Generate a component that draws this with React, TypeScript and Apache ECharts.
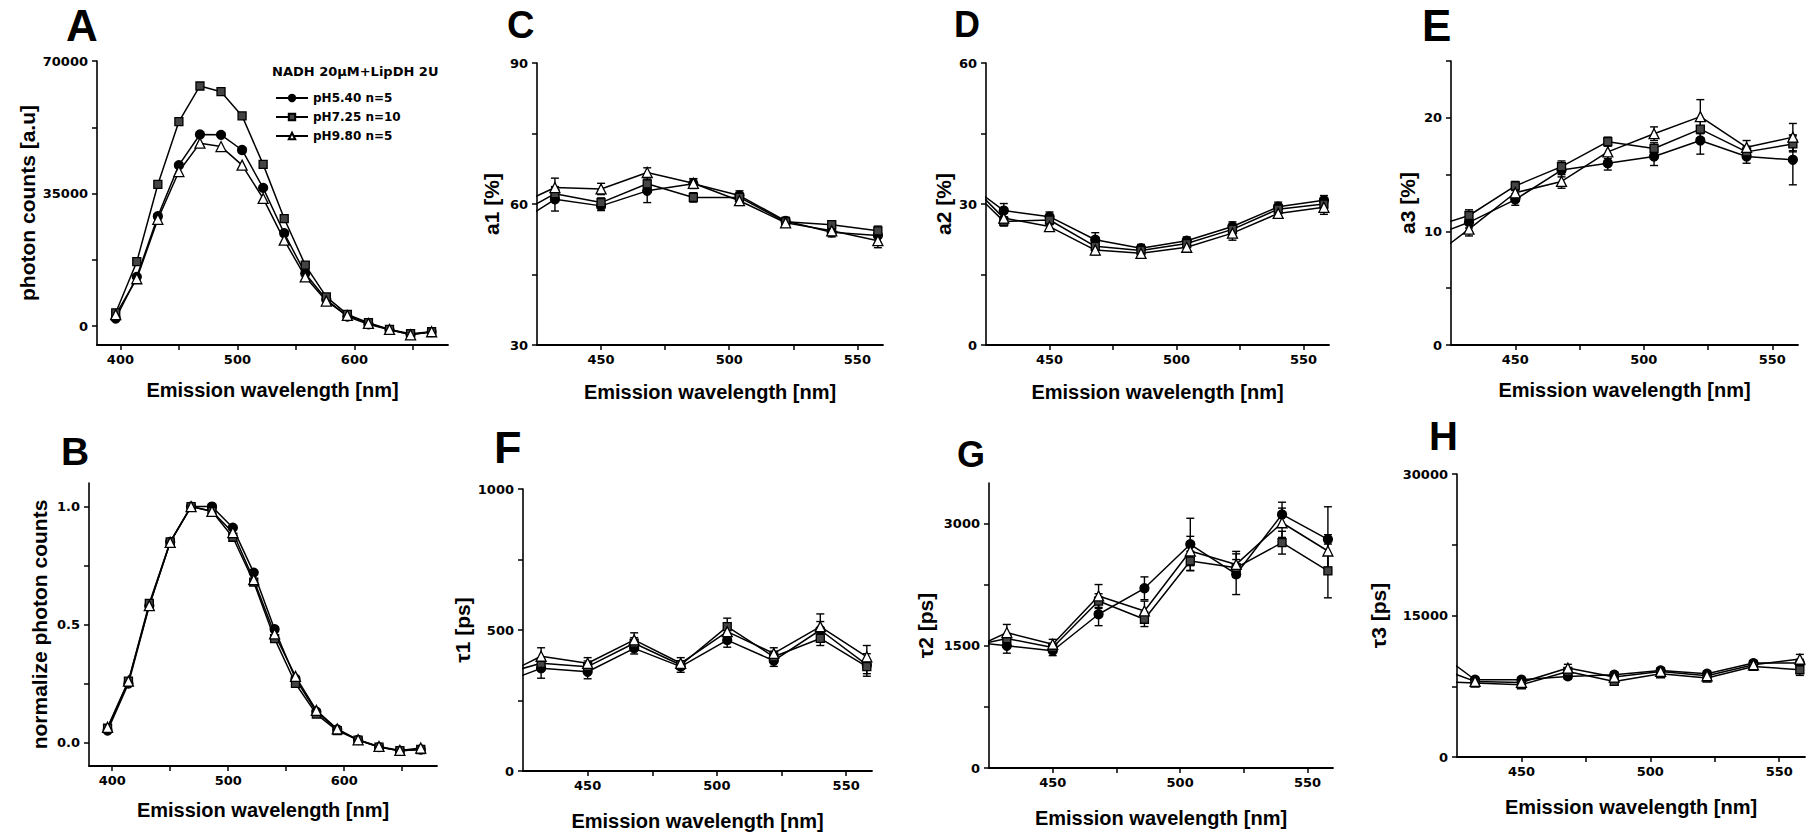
import React, { useEffect, useRef } from 'react';
import * as echarts from 'echarts';

// ---------- names & texts ----------
const SERIES_NAMES = ['pH5.40 n=5', 'pH7.25 n=10', 'pH9.80 n=5'];
const LEGEND_TITLE = 'NADH 20μM+LipDH 2U';
const X_TITLE = 'Emission wavelength [nm]';
const PANEL_LETTERS = ['A', 'B', 'C', 'D', 'E', 'F', 'G', 'H'];
const Y_TITLES = ['photon counts [a.u]', 'normalize photon counts', 'a1 [%]', 'a2 [%]', 'a3 [%]', 'τ1 [ps]', 'τ2 [ps]', 'τ3 [ps]'];

// ---------- x values ----------
const WL_SPECTRUM = [396, 414, 432, 450, 468, 486, 504, 522, 540, 558, 576, 594, 612, 630, 648, 666];
// first wavelength (414) lies left of the lifetime axes and is clipped
const WL_LIFE = [414, 432, 450, 468, 486, 504, 522, 540, 558];

// ---------- tick values ----------
const X_TICKS_SPECTRUM = [400, 450, 500, 550, 600, 650];
const X_LABELS_SPECTRUM = [400, 500, 600];
const X_TICKS_LIFE = [450, 475, 500, 525, 550];
const X_LABELS_LIFE = [450, 500, 550];
const Y_RANGES = [[-5000, 70000], [-0.1, 1.1], [30, 90], [0, 60], [0, 25], [0, 1000], [0, 3500], [0, 30000]];
const Y_TICKS = [
  [0, 17500, 35000, 52500, 70000],
  [0, 0.25, 0.5, 0.75, 1],
  [30, 45, 60, 75, 90],
  [0, 15, 30, 45, 60],
  [0, 5, 10, 15, 20, 25],
  [0, 250, 500, 750, 1000],
  [0, 750, 1500, 2250, 3000],
  [0, 7500, 15000, 22500, 30000],
];
const Y_LABELS = [
  [0, 35000, 70000],
  [0, 0.5, 1],
  [30, 60, 90],
  [0, 30, 60],
  [0, 10, 20],
  [0, 500, 1000],
  [0, 1500, 3000],
  [0, 15000, 30000],
];

// ---------- A: photon counts ----------
const A_PH540 = [2000, 13000, 29000, 42500, 50600, 50500, 46500, 36500, 24500, 13900, 7000, 2500, 500, -1000, -2200, -1600];
const A_PH725 = [3500, 17000, 37400, 54000, 63400, 61900, 55500, 42700, 28400, 16100, 7700, 3100, 900, -900, -2000, -1500];
const A_PH980 = [3000, 12500, 28200, 40800, 48300, 47400, 42500, 33700, 22700, 13000, 6600, 2800, 700, -900, -2300, -1500];

// ---------- B: normalized ----------
const B_PH540 = [0.05, 0.25, 0.58, 0.85, 1.0, 1.0, 0.91, 0.72, 0.48, 0.27, 0.13, 0.055, 0.01, -0.02, -0.035, -0.03];
const B_PH725 = [0.06, 0.26, 0.59, 0.85, 1.0, 0.98, 0.87, 0.68, 0.44, 0.25, 0.12, 0.05, 0.01, -0.02, -0.035, -0.03];
const B_PH980 = [0.064, 0.26, 0.58, 0.848, 1.0, 0.98, 0.89, 0.69, 0.46, 0.28, 0.136, 0.057, 0.011, -0.017, -0.034, -0.024];

// ---------- C: a1 [%] ----------
const C_PH540 = [54.8, 61.0, 59.6, 62.8, 64.3, 61.8, 56.4, 54.0, 53.3];
const C_PH725 = [56.8, 62.2, 60.3, 64.3, 61.4, 61.4, 56.2, 55.6, 54.3];
const C_PH980 = [58.9, 63.5, 63.2, 66.7, 64.4, 60.7, 56.0, 54.3, 52.2];
const C_PH540_ERR = [2.5, 1.0, 2.5, 1.0, 1.0, 0.8, 1.0, 1.5];
const C_PH725_ERR = [1.5, 1.0, 1.5, 1.0, 0.8, 0.8, 0.8, 1.0];
const C_PH980_ERR = [2.0, 1.2, 1.0, 1.0, 1.0, 0.8, 0.8, 1.5];

// ---------- D: a2 [%] ----------
const D_PH540 = [35.8, 28.6, 27.3, 22.4, 20.6, 22.2, 25.2, 29.4, 30.8];
const D_PH725 = [35.8, 26.3, 26.6, 21.0, 20.1, 21.6, 24.6, 28.9, 30.0];
const D_PH980 = [36.8, 27.0, 25.2, 20.2, 19.5, 20.8, 23.8, 28.0, 29.3];
const D_PH540_ERR = [1.5, 1.0, 1.5, 0.8, 0.8, 1.0, 1.0, 1.0];
const D_PH725_ERR = [1.0, 1.0, 1.0, 0.8, 0.8, 1.0, 1.0, 1.0];
const D_PH980_ERR = [1.0, 1.0, 1.0, 0.8, 0.8, 1.5, 1.0, 1.5];

// ---------- E: a3 [%] ----------
const E_PH540 = [9.25, 10.8, 12.8, 15.4, 16.0, 16.6, 18.0, 16.6, 16.3];
const E_PH725 = [10.1, 11.4, 14.0, 15.7, 17.9, 17.3, 19.0, 17.0, 17.7];
const E_PH980 = [7.1, 10.2, 13.4, 14.4, 17.0, 18.6, 20.1, 17.4, 18.3];
const E_PH540_ERR = [0.5, 0.5, 0.6, 0.6, 0.8, 1.2, 0.6, 2.2];
const E_PH725_ERR = [0.5, 0.4, 0.5, 0.4, 0.5, 0.8, 0.5, 0.7];
const E_PH980_ERR = [0.6, 0.5, 0.6, 0.6, 0.6, 1.5, 0.6, 1.2];

// ---------- F: tau1 [ps] ----------
const F_PH540 = [302, 364, 352, 435, 370, 464, 391, 500, 376];
const F_PH725 = [336, 382, 370, 453, 376, 512, 405, 470, 370];
const F_PH980 = [325, 407, 382, 465, 382, 494, 417, 512, 405];
const F_PH540_ERR = [35, 25, 20, 20, 25, 20, 30, 40];
const F_PH725_ERR = [20, 20, 20, 15, 30, 20, 25, 25];
const F_PH980_ERR = [30, 20, 25, 20, 20, 20, 45, 40];

// ---------- G: tau2 [ps] ----------
const G_PH540 = [1564, 1500, 1440, 1888, 2207, 2747, 2380, 3114, 2808];
const G_PH725 = [1474, 1590, 1480, 2050, 1827, 2542, 2460, 2767, 2420];
const G_PH980 = [1398, 1663, 1520, 2113, 1929, 2665, 2500, 3012, 2665];
const G_PH540_ERR = [90, 60, 140, 140, 320, 250, 150, 400];
const G_PH725_ERR = [60, 50, 90, 90, 120, 100, 140, 330];
const G_PH980_ERR = [100, 60, 140, 120, 180, 160, 180, 200];

// ---------- H: tau3 [ps] ----------
const H_PH540 = [11820, 8190, 8190, 8543, 8720, 9178, 8825, 9955, 9955];
const H_PH725 = [8018, 7837, 7660, 9072, 8013, 8825, 8366, 9602, 9249];
const H_PH980 = [9828, 8013, 7907, 9425, 8472, 9072, 8613, 9778, 10378];
const H_PH540_ERR = [300, 250, 300, 300, 300, 300, 300, 400];
const H_PH725_ERR = [300, 250, 300, 400, 300, 300, 300, 600];
const H_PH980_ERR = [300, 300, 400, 300, 300, 300, 300, 500];

const SPECTRUM_PANELS = [
  [A_PH540, A_PH725, A_PH980],
  [B_PH540, B_PH725, B_PH980],
];
const LIFE_PANELS = [
  { vals: [C_PH540, C_PH725, C_PH980], errs: [C_PH540_ERR, C_PH725_ERR, C_PH980_ERR] },
  { vals: [D_PH540, D_PH725, D_PH980], errs: [D_PH540_ERR, D_PH725_ERR, D_PH980_ERR] },
  { vals: [E_PH540, E_PH725, E_PH980], errs: [E_PH540_ERR, E_PH725_ERR, E_PH980_ERR] },
  { vals: [F_PH540, F_PH725, F_PH980], errs: [F_PH540_ERR, F_PH725_ERR, F_PH980_ERR] },
  { vals: [G_PH540, G_PH725, G_PH980], errs: [G_PH540_ERR, G_PH725_ERR, G_PH980_ERR] },
  { vals: [H_PH540, H_PH725, H_PH980], errs: [H_PH540_ERR, H_PH725_ERR, H_PH980_ERR] },
];

// ---------- layout ----------
const GRIDS = [
  { left: 97, top: 61, width: 351, height: 284 },
  { left: 89, top: 483, width: 348, height: 283 },
  { left: 537, top: 63, width: 346, height: 282 },
  { left: 986, top: 63, width: 343, height: 282 },
  { left: 1451, top: 61, width: 347, height: 284 },
  { left: 523, top: 489, width: 349, height: 282 },
  { left: 989, top: 483, width: 344, height: 285 },
  { left: 1457, top: 474, width: 348, height: 283 },
];
const Y_NAME_GAP = [59, 39, 35, 32, 33, 50, 53, 68];
const X_NAME_GAP = [35, 34, 37, 37, 35, 40, 40, 40];
const LETTER_POS = [
  { x: 66, y: 10, s: 44 }, { x: 61, y: 438, s: 39 }, { x: 507, y: 12, s: 38 }, { x: 954, y: 12, s: 36 },
  { x: 1422, y: 10, s: 44 }, { x: 494, y: 432, s: 45 }, { x: 957, y: 442, s: 36 }, { x: 1429, y: 422, s: 40 },
];

const SYMBOLS = [
  { symbol: 'circle', size: 9, fill: '#000' },
  { symbol: 'rect', size: 8, fill: '#444' },
  { symbol: 'triangle', size: 10, fill: '#fff' },
];

const TICK_FONT = { fontFamily: 'DejaVu Sans', fontWeight: 'bold' as const, fontSize: 13, color: '#000' };
const TITLE_FONT = { fontFamily: 'Liberation Sans', fontWeight: 'bold' as const, color: '#000' };

function errRender(params: any, api: any) {
  const x = api.value(0);
  const y = api.value(1);
  const e = api.value(2);
  const top = api.coord([x, y + e]);
  const bot = api.coord([x, y - e]);
  const w = 4;
  const st = { stroke: '#000', lineWidth: 1.4 };
  return {
    type: 'group',
    children: [
      { type: 'line', shape: { x1: top[0], y1: top[1], x2: bot[0], y2: bot[1] }, style: st },
      { type: 'line', shape: { x1: top[0] - w, y1: top[1], x2: top[0] + w, y2: top[1] }, style: st },
      { type: 'line', shape: { x1: bot[0] - w, y1: bot[1], x2: bot[0] + w, y2: bot[1] }, style: st },
    ],
  };
}

function buildOption() {
  const grid = GRIDS.map((g) => ({ ...g, containLabel: false }));
  const xAxis: any[] = [];
  const yAxis: any[] = [];
  for (let i = 0; i < 8; i++) {
    const spec = i < 2;
    xAxis.push({
      type: 'value',
      gridIndex: i,
      min: spec ? 380 : 425,
      max: spec ? 680 : 560,
      name: X_TITLE,
      nameLocation: 'middle',
      nameGap: X_NAME_GAP[i],
      nameTextStyle: { ...TITLE_FONT, fontSize: 20 },
      splitLine: { show: false },
      axisLine: { onZero: false, lineStyle: { color: '#000', width: 1.8 } },
      axisTick: { length: 5, lineStyle: { color: '#000', width: 1.5 }, customValues: spec ? X_TICKS_SPECTRUM : X_TICKS_LIFE },
      axisLabel: { ...TICK_FONT, margin: 8, customValues: spec ? X_LABELS_SPECTRUM : X_LABELS_LIFE },
    });
    yAxis.push({
      type: 'value',
      gridIndex: i,
      min: Y_RANGES[i][0],
      max: Y_RANGES[i][1],
      name: Y_TITLES[i],
      nameLocation: 'middle',
      nameGap: Y_NAME_GAP[i],
      nameRotate: 90,
      nameTextStyle: { ...TITLE_FONT, fontSize: 21 },
      splitLine: { show: false },
      axisLine: { onZero: false, lineStyle: { color: '#000', width: 1.6 } },
      axisTick: { length: 5, lineStyle: { color: '#000', width: 1.5 }, customValues: Y_TICKS[i] },
      axisLabel: {
        ...TICK_FONT,
        margin: 9,
        customValues: Y_LABELS[i],
        formatter: i === 1 ? (v: number) => v.toFixed(1) : (v: number) => String(v),
      },
    });
  }

  const series: any[] = [];
  SPECTRUM_PANELS.forEach((panel, p) => {
    panel.forEach((vals, s) => {
      series.push({
        type: 'line',
        name: SERIES_NAMES[s],
        xAxisIndex: p,
        yAxisIndex: p,
        data: WL_SPECTRUM.map((x, i) => [x, vals[i]]),
        symbol: SYMBOLS[s].symbol,
        symbolSize: SYMBOLS[s].size,
        showAllSymbol: true,
        itemStyle: { color: SYMBOLS[s].fill, borderColor: '#000', borderWidth: 1.3 },
        lineStyle: { color: '#000', width: 1.5 },
        z: 3,
        silent: true,
      });
    });
  });
  LIFE_PANELS.forEach((panel, k) => {
    const p = k + 2;
    panel.vals.forEach((vals, s) => {
      series.push({
        type: 'line',
        name: SERIES_NAMES[s],
        xAxisIndex: p,
        yAxisIndex: p,
        clip: true,
        data: WL_LIFE.map((x, i) => (i === 0 ? { value: [x, vals[i]], symbol: 'none' } : [x, vals[i]])),
        symbol: SYMBOLS[s].symbol,
        symbolSize: SYMBOLS[s].size,
        showAllSymbol: true,
        itemStyle: { color: SYMBOLS[s].fill, borderColor: '#000', borderWidth: 1.3 },
        lineStyle: { color: '#000', width: 1.5 },
        z: 3,
        silent: true,
      });
      series.push({
        type: 'custom',
        name: 'err ' + p + ' ' + s,
        xAxisIndex: p,
        yAxisIndex: p,
        clip: true,
        renderItem: errRender,
        data: WL_LIFE.slice(1).map((x, i) => [x, vals[i + 1], panel.errs[s][i]]),
        z: 2,
        silent: true,
      });
    });
  });

  const graphic: any[] = PANEL_LETTERS.map((L, i) => ({
    type: 'text',
    x: LETTER_POS[i].x,
    y: LETTER_POS[i].y - Math.round(LETTER_POS[i].s * 0.16),
    style: {
      text: L,
      font: `bold ${LETTER_POS[i].s}px "Liberation Sans", Arial, sans-serif`,
      fill: '#000',
      verticalAlign: 'top',
    },
  }));
  graphic.push({
    type: 'text',
    x: 272,
    y: 65,
    style: { text: LEGEND_TITLE, font: 'bold 13px "DejaVu Sans"', fill: '#000', verticalAlign: 'top' },
  });

  return {
    animation: false,
    backgroundColor: '#fff',
    grid,
    xAxis,
    yAxis,
    series,
    graphic,
    legend: {
      orient: 'vertical',
      left: 270,
      top: 87,
      itemWidth: 32,
      itemHeight: 8,
      itemGap: 7,
      selectedMode: false,
      data: SERIES_NAMES,
      textStyle: { fontFamily: 'DejaVu Sans', fontWeight: 'bold', fontSize: 12, color: '#000' },
    },
  };
}

export default function App() {
  const ref = useRef<HTMLDivElement>(null);
  useEffect(() => {
    document.body.style.margin = '0';
    const chart = echarts.init(ref.current!, null, { renderer: 'svg' });
    chart.setOption(buildOption() as any);
    return () => chart.dispose();
  }, []);
  return <div ref={ref} style={{ position: 'absolute', left: 0, top: 0, width: 1814, height: 833, background: '#fff' }} />;
}
